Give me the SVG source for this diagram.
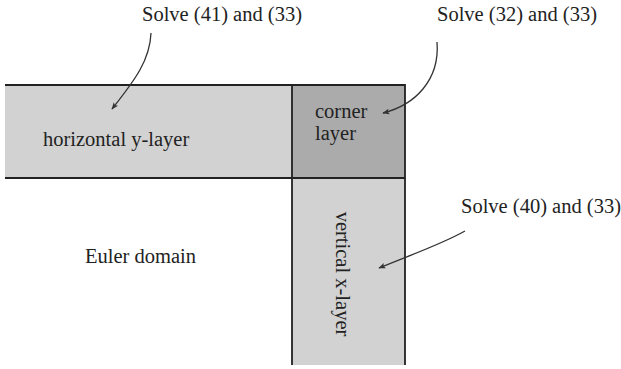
<svg xmlns="http://www.w3.org/2000/svg" width="621" height="369" viewBox="0 0 621 369">
<style>
text{font-family:"Liberation Serif","Times New Roman",serif;font-size:20.5px;fill:#222}
.edge{stroke:#222;stroke-width:1.8;fill:none}
.conn{stroke:#333;stroke-width:1.3;fill:none;marker-end:url(#ah)}
.light{fill:#d2d2d2}
.dark{fill:#ababab}
</style>
<defs>
<marker id="ah" viewBox="0 0 10 10" refX="9" refY="5" markerWidth="9" markerHeight="7" orient="auto" markerUnits="userSpaceOnUse">
<path d="M0,1 L10,5 L0,9 L2,5 Z" fill="#333"/>
</marker>
</defs>
<rect width="621" height="369" fill="#fff"/>
<g id="horizontal">
<rect class="light" x="5" y="85" width="287" height="93"/>
<text x="43" y="146">horizontal y-layer</text>
</g>
<g id="corner">
<rect class="dark" x="292" y="85" width="113" height="93"/>
<text x="315" y="118">corner</text>
<text x="315" y="140">layer</text>
</g>
<g id="vertical">
<rect class="light" x="292" y="178" width="113" height="187"/>
<text transform="translate(336,274) rotate(90)" text-anchor="middle">vertical x-layer</text>
</g>
<g id="euler">
<text x="85" y="263">Euler domain</text>
</g>
<g id="borders">
<path class="edge" d="M5,85 H405 V365 M5,178 H405 M292,85 V365"/>
</g>
<g id="labels">
<text x="222" y="21" text-anchor="middle">Solve (41) and (33)</text>
<text x="517" y="21" text-anchor="middle">Solve (32) and (33)</text>
<text x="541" y="213" text-anchor="middle">Solve (40) and (33)</text>
</g>
<g id="connectors">
<path class="conn" d="M151,33 C150,60 135,80 112,109"/>
<path class="conn" d="M437,42 C440,80 415,105 383,113"/>
<path class="conn" d="M465,231 C440,245 410,255 379,268"/>
</g>
</svg>
